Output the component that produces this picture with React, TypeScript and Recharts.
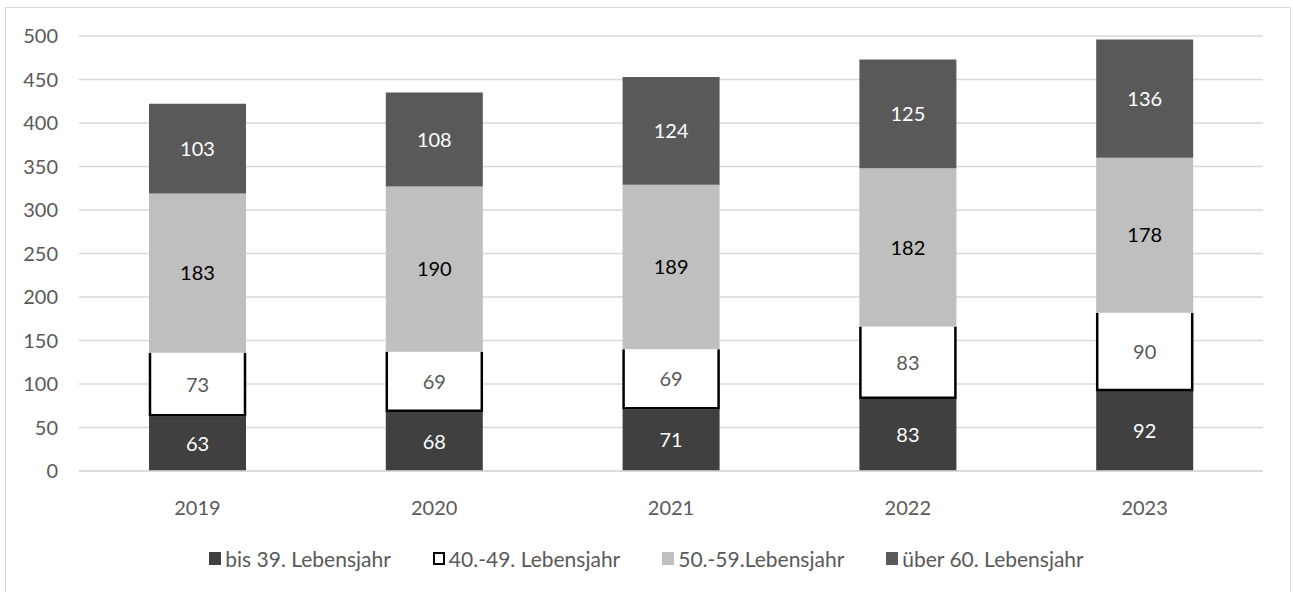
import React from 'react';
import {
  BarChart,
  Bar,
  XAxis,
  YAxis,
  CartesianGrid,
  Legend,
  LabelList
} from 'recharts';

const years = ['2019', '2020', '2021', '2022', '2023'];
const bis39 = [63, 68, 71, 83, 92];
const bis49 = [73, 69, 69, 83, 90];
const bis59 = [183, 190, 189, 182, 178];
const ueber60 = [103, 108, 124, 125, 136];
const yTicks = [0, 50, 100, 150, 200, 250, 300, 350, 400, 450, 500];

const seriesNames = {
  a: 'bis 39. Lebensjahr',
  b: '40.-49. Lebensjahr',
  c: '50.-59.Lebensjahr',
  d: 'über 60. Lebensjahr'
};

const data = years.map((year, i) => ({
  year,
  a: bis39[i],
  b: bis49[i],
  c: bis59[i],
  d: ueber60[i]
}));

const FONT = 'Lato, "Open Sans", sans-serif';

// white segment: black outline on the sides and the bottom only
const OutlinedBar = (props: any) => {
  const { x, y, width, height } = props;
  return (
    <g>
      <rect x={x} y={y} width={width} height={height} fill="#ffffff" />
      <path
        d={`M${x + 1},${y} L${x + 1},${y + height - 1} L${x + width - 1},${y + height - 1} L${x + width - 1},${y}`}
        fill="none"
        stroke="#000000"
        strokeWidth={2.5}
      />
    </g>
  );
};

const legendItems = [
  { key: 'a', fill: '#404040', border: 'none' },
  { key: 'b', fill: '#ffffff', border: '2px solid #000' },
  { key: 'c', fill: '#bfbfbf', border: 'none' },
  { key: 'd', fill: '#595959', border: 'none' }
];

const LegendContent = () => (
  <div style={{ display: 'flex', justifyContent: 'center', gap: 42, fontFamily: FONT, fontSize: 21, color: '#595959' }}>
    {legendItems.map((it) => (
      <div key={it.key} style={{ display: 'flex', alignItems: 'center', gap: 4 }}>
        <span
          style={{
            display: 'inline-block',
            width: 12,
            height: 13,
            boxSizing: 'border-box',
            background: it.fill,
            border: it.border
          }}
        />
        <span>{seriesNames[it.key as keyof typeof seriesNames]}</span>
      </div>
    ))}
  </div>
);

export default function App() {
  return (
    <div style={{ position: 'absolute', left: 0, top: 0, width: 1293, height: 592, background: '#fff' }}>
      <div
        style={{
          position: 'absolute',
          left: 5,
          top: 7,
          width: 1286,
          height: 590,
          border: '1px solid #d9d9d9',
          boxSizing: 'border-box'
        }}
      />
      <BarChart
        width={1293}
        height={592}
        data={data}
        margin={{ top: 36, right: 30, left: 19, bottom: 81 }}
        barSize={97}
      >
        <CartesianGrid vertical={false} stroke="#d9d9d9" strokeWidth={1.5} />
        <XAxis
          dataKey="year"
          tickLine={false}
          axisLine={{ stroke: '#d9d9d9', strokeWidth: 1.5 }}
          tickSize={0}
          tickMargin={30}
          height={40}
          tick={{ fill: '#595959', fontSize: 20, fontFamily: FONT }}
        />
        <YAxis
          domain={[0, 500]}
          ticks={yTicks}
          width={60}
          axisLine={false}
          tickLine={false}
          tickSize={0}
          tickMargin={21}
          tick={{ fill: '#595959', fontSize: 20, fontFamily: FONT }}
        />
        <Bar dataKey="a" name={seriesNames.a} stackId="s" fill="#404040" isAnimationActive={false}>
          <LabelList dataKey="a" position="center" fill="#ffffff" fontSize={20} fontFamily={FONT} />
        </Bar>
        <Bar dataKey="b" name={seriesNames.b} stackId="s" fill="#ffffff" shape={OutlinedBar} isAnimationActive={false}>
          <LabelList dataKey="b" position="center" fill="#595959" fontSize={20} fontFamily={FONT} />
        </Bar>
        <Bar dataKey="c" name={seriesNames.c} stackId="s" fill="#bfbfbf" isAnimationActive={false}>
          <LabelList dataKey="c" position="center" fill="#000000" fontSize={20} fontFamily={FONT} />
        </Bar>
        <Bar dataKey="d" name={seriesNames.d} stackId="s" fill="#595959" isAnimationActive={false}>
          <LabelList dataKey="d" position="center" fill="#ffffff" fontSize={20} fontFamily={FONT} />
        </Bar>
        <Legend
          layout="horizontal"
          verticalAlign="middle"
          align="center"
          content={<LegendContent />}
          wrapperStyle={{ top: 546, left: 0, width: 1293 }}
        />
      </BarChart>
    </div>
  );
}
